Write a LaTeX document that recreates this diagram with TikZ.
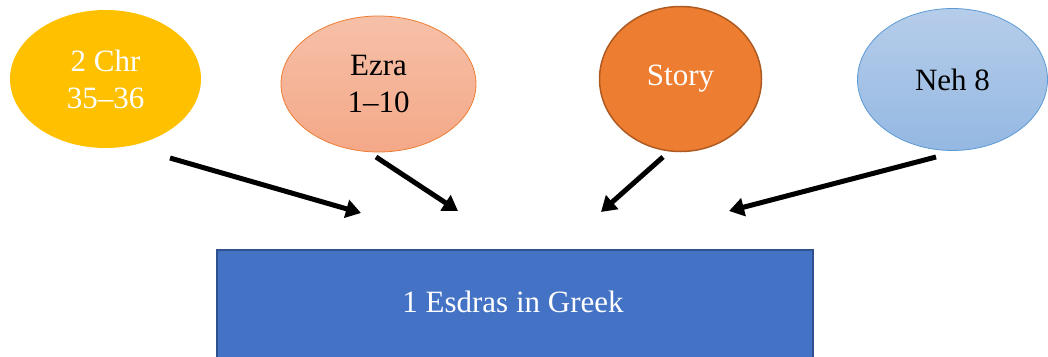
\documentclass[tikz,border=0pt]{standalone}
\usepackage{fontspec}
\setmainfont{Liberation Serif}
\usetikzlibrary{shapes.geometric,arrows.meta}
\definecolor{chrfill}{HTML}{FFC000}
\definecolor{ezratop}{RGB}{246,192,168}
\definecolor{ezrabot}{RGB}{244,168,136}
\definecolor{ezraline}{HTML}{ED7D31}
\definecolor{storyfill}{HTML}{ED7D31}
\definecolor{storyline}{HTML}{AE5A21}
\definecolor{nehtop}{RGB}{182,205,234}
\definecolor{nehbot}{RGB}{148,184,226}
\definecolor{nehline}{HTML}{5B9BD5}
\definecolor{boxfill}{HTML}{4472C4}
\definecolor{boxline}{HTML}{2F528F}
\tikzset{
  src/.style={ellipse, inner sep=0pt, outer sep=0pt, align=center,
    font=\fontsize{31}{37}\selectfont, line width=0.8pt},
  flow/.style={line width=5pt, -{Triangle[length=15pt,width=18pt]}}
}
\begin{document}
\begin{tikzpicture}[x=1pt,y=-1pt]
\useasboundingbox (0,0) rectangle (1048,356);
\node[src, fill=chrfill, text=white, minimum width=191pt, minimum height=138pt] (chr) at (105.5,79) {2 Chr\\35--36};
\node[src, top color=ezratop, bottom color=ezrabot, draw=ezraline, text=black, minimum width=195pt, minimum height=136pt] (ezra) at (378.5,84) {Ezra\\1--10};
\node[src, fill=storyfill, draw=storyline, line width=1.5pt, text=white, minimum width=162pt, minimum height=145pt] (story) at (680.5,79) {Story};
\node[src, top color=nehtop, bottom color=nehbot, draw=nehline, text=black, minimum width=190pt, minimum height=142pt] (neh) at (952.5,79.5) {Neh 8};
\draw[fill=boxfill, draw=boxline, line width=1.5pt] (217,250) rectangle (813,370);
\node[text=white, font=\fontsize{31}{37}\selectfont] (esdras) at (513,302) {1 Esdras in Greek};
\coordinate (s1) at (170,158); \coordinate (e1) at (361,213);
\coordinate (s2) at (376,157); \coordinate (e2) at (458,211);
\coordinate (s3) at (663,157); \coordinate (e3) at (601,212);
\coordinate (s4) at (936,157); \coordinate (e4) at (729,211);
\draw[flow] (s1) -- (e1);
\draw[flow] (s2) -- (e2);
\draw[flow] (s3) -- (e3);
\draw[flow] (s4) -- (e4);
\end{tikzpicture}
\end{document}
